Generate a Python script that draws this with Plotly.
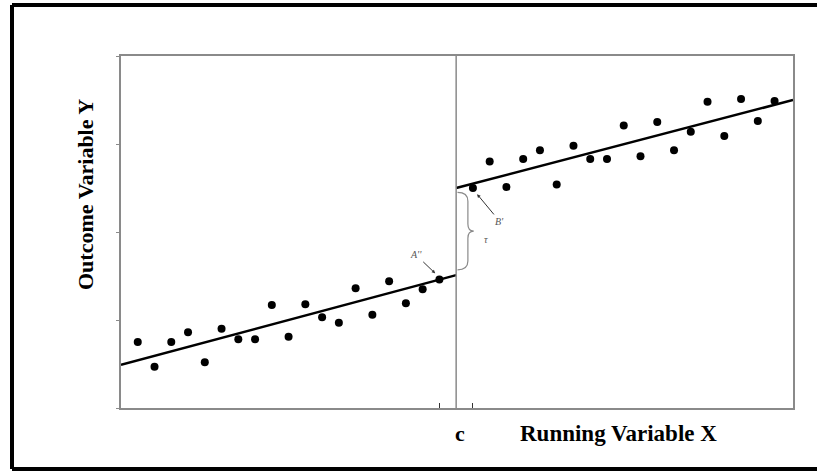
import plotly.graph_objects as go

# Data
left_x = list(range(1, 20))
left_y = [0.75, 0.47, 0.75, 0.86, 0.52, 0.90, 0.78, 0.78, 1.17, 0.81,
          1.18, 1.03, 0.97, 1.36, 1.06, 1.44, 1.19, 1.35, 1.46]
right_x = list(range(21, 40))
right_y = [2.50, 2.80, 2.51, 2.83, 2.93, 2.54, 2.98, 2.83, 2.83, 3.21,
           2.86, 3.25, 2.93, 3.14, 3.48, 3.09, 3.51, 3.26, 3.49]
left_fit_x = [0, 20]
left_fit_y = [0.49, 1.51]
right_fit_x = [20, 40.1]
right_fit_y = [2.50, 3.50]
cutoff = 20
x_ticks = [19, 21]
y_ticks = [0, 1, 2, 3, 4]

GRAY = "#8a8a8a"
SERIF = "Liberation Serif, Times New Roman, serif"
X_MAX = 40.1

fig = go.Figure()
fig.add_trace(go.Scatter(x=left_fit_x, y=left_fit_y, mode="lines",
                         line=dict(color="black", width=2.5), showlegend=False))
fig.add_trace(go.Scatter(x=right_fit_x, y=right_fit_y, mode="lines",
                         line=dict(color="black", width=2.5), showlegend=False))
fig.add_trace(go.Scatter(x=left_x, y=left_y, mode="markers",
                         marker=dict(color="black", size=8), showlegend=False))
fig.add_trace(go.Scatter(x=right_x, y=right_y, mode="markers",
                         marker=dict(color="black", size=8), showlegend=False))

# cutoff line
fig.add_shape(type="line", x0=cutoff, x1=cutoff, y0=0, y1=4, xref="x", yref="y",
              line=dict(color=GRAY, width=1.5))

# brace for tau
yb0, yb1 = left_fit_y[1] + 0.06, right_fit_y[0] - 0.05
ym = (yb0 + yb1) / 2
xa, xs, xt = cutoff + 0.08, cutoff + 0.7, cutoff + 1.05
path = (f"M {xa},{yb1} Q {xs},{yb1} {xs},{yb1-0.1} L {xs},{ym+0.08} "
        f"Q {xs},{ym} {xt},{ym} Q {xs},{ym} {xs},{ym-0.08} "
        f"L {xs},{yb0+0.1} Q {xs},{yb0} {xa},{yb0}")
fig.add_shape(type="path", path=path, xref="x", yref="y",
              line=dict(color=GRAY, width=1.2))

fig.add_annotation(x=cutoff + 1.8, y=ym - 0.1, text="<i>τ</i>", showarrow=False,
                   font=dict(family=SERIF, size=10, color="#555"))
fig.add_annotation(x=18.75, y=1.53, ax=17.6, ay=1.74, axref="x", ayref="y",
                   xref="x", yref="y", text="<i>A''</i>", showarrow=True,
                   arrowhead=2, arrowsize=0.7, arrowwidth=1, arrowcolor="#333",
                   font=dict(family=SERIF, size=10, color="#555"))
fig.add_annotation(x=21.25, y=2.43, ax=22.6, ay=2.12, axref="x", ayref="y",
                   xref="x", yref="y", text="<i>B'</i>", showarrow=True,
                   arrowhead=2, arrowsize=0.7, arrowwidth=1, arrowcolor="#333",
                   font=dict(family=SERIF, size=10, color="#555"))

# axis texts (paper coordinates so they are drawn below the plot area)
fig.add_annotation(x=(cutoff + 0.25) / X_MAX, y=(408 - 433) / 352, xref="paper",
                   yref="paper", text="<b>c</b>", showarrow=False,
                   xanchor="center", yanchor="middle",
                   font=dict(family=SERIF, size=22, color="black"))
fig.add_annotation(x=(618 - 121) / 672, y=(408 - 433) / 352, xref="paper",
                   yref="paper", text="<b>Running Variable X</b>", showarrow=False,
                   xanchor="center", yanchor="middle",
                   font=dict(family=SERIF, size=23, color="black"))
fig.add_annotation(x=(85 - 121) / 672, y=(408 - 195) / 352, xref="paper", yref="paper",
                   text="<b>Outcome Variable Y</b>", textangle=-90, showarrow=False,
                   xanchor="center", yanchor="middle",
                   font=dict(family=SERIF, size=22, color="black"))

# outer black frame (left, top, bottom edges; right edge lies off the canvas)
fx0, fx1 = (12 - 121) / 672, (817 - 121) / 672
fy0, fy1 = (408 - 469) / 352, (408 - 5) / 352
for (a, b, c, d) in [(fx0, fy0, fx0, fy1), (fx0, fy1, fx1, fy1), (fx0, fy0, fx1, fy0)]:
    fig.add_shape(type="line", xref="paper", yref="paper", x0=a, y0=b, x1=c, y1=d,
                  line=dict(color="black", width=4))

fig.update_xaxes(range=[0, X_MAX], showgrid=False, zeroline=False,
                 showline=True, linecolor=GRAY, linewidth=1.5, mirror=True,
                 tickvals=x_ticks, ticktext=["", ""], ticks="inside",
                 ticklen=5, tickcolor="#333", tickwidth=1)
fig.update_yaxes(range=[0, 4], showgrid=False, zeroline=False,
                 showline=True, linecolor=GRAY, linewidth=1.5, mirror=True,
                 tickvals=y_ticks, ticktext=[""] * 5, ticks="outside",
                 ticklen=3, tickcolor=GRAY, tickwidth=1)

fig.update_layout(width=817, height=471, plot_bgcolor="white", paper_bgcolor="white",
                  margin=dict(l=121, r=24, t=56, b=63), showlegend=False)

fig.write_html("out.html", config={"displayModeBar": False},
               post_script="document.body.style.margin='0';document.body.style.overflow='hidden';")
